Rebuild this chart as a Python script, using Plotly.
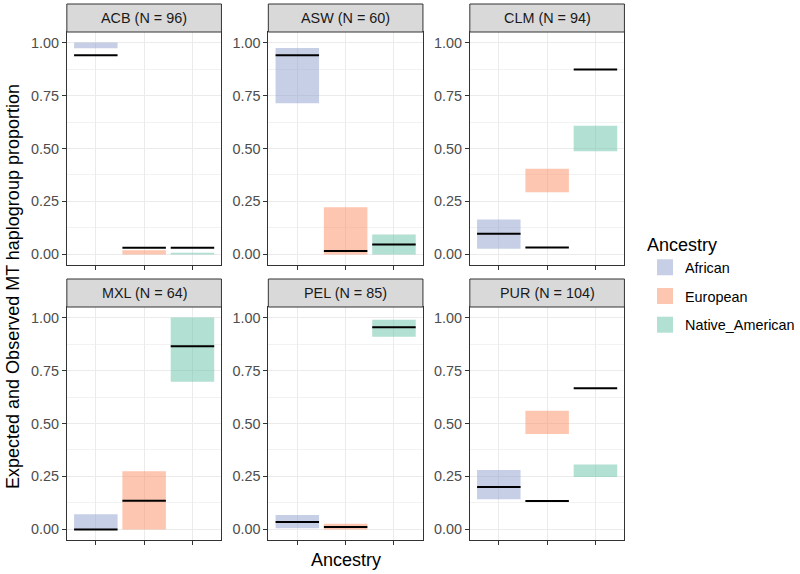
import plotly.graph_objects as go

populations = ["ACB", "ASW", "CLM", "MXL", "PEL", "PUR"]
sample_sizes = [96, 60, 94, 64, 85, 104]
ancestries = ["African", "European", "Native_American"]

african_low = [0.973, 0.714, 0.027, 0.000, 0.005, 0.142]
african_high = [1.000, 0.975, 0.165, 0.071, 0.068, 0.281]
african_obs = [0.940, 0.940, 0.098, 0.000, 0.035, 0.200]

european_low = [0.000, 0.000, 0.294, 0.000, 0.000, 0.450]
european_high = [0.020, 0.223, 0.404, 0.274, 0.027, 0.560]
european_obs = [0.031, 0.016, 0.033, 0.135, 0.011, 0.134]

native_low = [0.000, 0.000, 0.487, 0.697, 0.910, 0.247]
native_high = [0.008, 0.094, 0.607, 1.000, 0.990, 0.307]
native_obs = [0.031, 0.047, 0.873, 0.865, 0.954, 0.667]

y_ticks = [0.0, 0.25, 0.5, 0.75, 1.0]

lows = [african_low, european_low, native_low]
highs = [african_high, european_high, native_high]
obs = [african_obs, european_obs, native_obs]
colors = ["rgba(141,160,203,0.5)", "rgba(252,141,98,0.5)", "rgba(102,194,165,0.5)"]

W, H = 800, 574
FONT = "Liberation Sans, Arial, Helvetica, sans-serif"
BAR_W = 0.9
SMALL = 14.4
BIG = 18

# panel pixel boxes
col_x = [(67, 222), (269, 424), (471, 626)]
row_y = [(32, 265), (307, 540)]
strip_h = 28

fig = go.Figure()
layout_axes = {}
shapes = []
annotations = []

for p, pop in enumerate(populations):
    r, c = divmod(p, 3)
    idx = p + 1
    xa = "x" if idx == 1 else f"x{idx}"
    ya = "y" if idx == 1 else f"y{idx}"
    x0, x1 = col_x[c]
    yt, yb = row_y[r]
    for a, anc in enumerate(ancestries):
        xpos = a + 1
        fig.add_trace(go.Bar(
            x=[xpos], y=[highs[a][p] - lows[a][p]], base=[lows[a][p]],
            width=BAR_W, marker=dict(color=colors[a], line=dict(width=0)),
            name=anc, showlegend=False,
            xaxis=xa, yaxis=ya, hoverinfo="skip"))
        fig.add_trace(go.Scatter(
            x=[xpos - BAR_W / 2, xpos + BAR_W / 2], y=[obs[a][p], obs[a][p]],
            mode="lines", line=dict(color="black", width=2),
            showlegend=False, xaxis=xa, yaxis=ya, hoverinfo="skip"))
    xkey = "xaxis" if idx == 1 else f"xaxis{idx}"
    ykey = "yaxis" if idx == 1 else f"yaxis{idx}"
    layout_axes[xkey] = dict(
        domain=[x0 / W, x1 / W], anchor=ya, range=[0.4, 3.6],
        tickvals=[1, 2, 3], ticktext=["", "", ""], ticks="outside", ticklen=4,
        tickcolor="#333333", tickwidth=1, showgrid=True, gridcolor="#EBEBEB", gridwidth=1.1,
        showline=True, linecolor="#333333", linewidth=1, mirror=True, zeroline=False,
        fixedrange=True)
    layout_axes[ykey] = dict(
        domain=[1 - yb / H, 1 - yt / H], anchor=xa, range=[-0.05, 1.05],
        tickvals=y_ticks, tickformat=".2f", ticks="outside", ticklen=4,
        tickcolor="#333333", tickwidth=1,
        tickfont=dict(family=FONT, size=SMALL, color="#4D4D4D"),
        showgrid=True, gridcolor="#EBEBEB", gridwidth=1.1,
        minor=dict(dtick=0.125, tick0=0.125, showgrid=True, gridcolor="#F2F2F2", gridwidth=0.6, ticks=""),
        showline=True, linecolor="#333333", linewidth=1, mirror=True, zeroline=False,
        fixedrange=True)
    shapes.append(dict(type="rect", xref="paper", yref="paper",
                       x0=x0 / W, x1=x1 / W, y0=1 - yt / H, y1=1 - (yt - strip_h) / H,
                       fillcolor="#D9D9D9", line=dict(color="#333333", width=1), layer="above"))
    annotations.append(dict(text=f"{pop} (N = {sample_sizes[p]})", xref="paper", yref="paper",
                            x=(x0 + x1) / 2 / W, y=1 - (yt - strip_h / 2) / H,
                            showarrow=False, font=dict(family=FONT, size=SMALL, color="#1A1A1A"),
                            xanchor="center", yanchor="middle"))

# legend entries (keys only)
for a, anc in enumerate(ancestries):
    fig.add_trace(go.Scatter(
        x=[None], y=[None], mode="markers", name=anc,
        marker=dict(symbol="square", size=16, color=colors[a], line=dict(width=0)),
        showlegend=True, legendgroup=anc, hoverinfo="skip"))

annotations.append(dict(text="Ancestry", xref="paper", yref="paper", x=346.5 / W, y=1 - 560 / H,
                        showarrow=False, font=dict(family=FONT, size=BIG, color="black"),
                        xanchor="center", yanchor="middle"))
annotations.append(dict(text="Expected and Observed MT haplogroup proportion", xref="paper", yref="paper",
                        x=13 / W, y=1 - 286 / H, textangle=-90,
                        showarrow=False, font=dict(family=FONT, size=BIG, color="black"),
                        xanchor="center", yanchor="middle"))

fig.update_layout(
    width=W, height=H, margin=dict(l=0, r=0, t=0, b=0),
    paper_bgcolor="white", plot_bgcolor="white", barmode="overlay",
    font=dict(family=FONT, color="black"),
    shapes=shapes, annotations=annotations,
    legend=dict(title=dict(text="Ancestry", font=dict(family=FONT, size=BIG, color="black")),
                x=647 / W, y=1 - 228 / H, xanchor="left", yanchor="top",
                font=dict(family=FONT, size=SMALL, color="black"),
                traceorder="grouped", tracegroupgap=7, itemwidth=30, itemsizing="trace",
                bgcolor="rgba(0,0,0,0)"),
    **layout_axes,
)

fig.write_html("out.html", config={"displayModeBar": False},
               post_script="document.body.style.margin='0px';document.body.style.padding='0px';")
